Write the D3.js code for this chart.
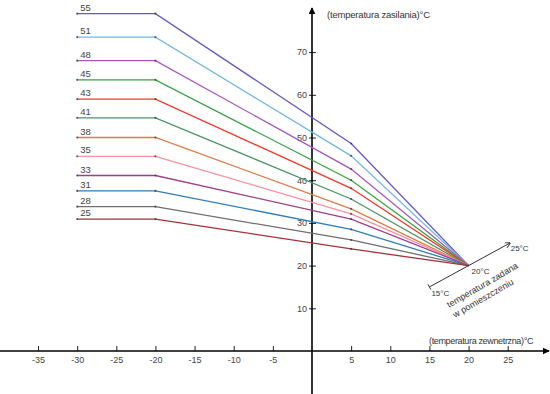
<!DOCTYPE html>
<html>
<head>
<meta charset="utf-8">
<script src="https://cdn.jsdelivr.net/npm/d3@7"></script>
<style>
  body { margin: 0; background: #fff; }
  svg { display: block; font-family: "Liberation Sans", Arial, sans-serif; }
</style>
</head>
<body>
<div id="chart"></div>
<script>
// heating curves: supply temperature vs outside temperature
const curveLabels = ["55", "51", "48", "45", "43", "41", "38", "35", "33", "31", "28", "25"];
const curveColors = ["#6657c6", "#72b8e2", "#a457c0", "#35a540", "#f4382a", "#4a9468",
                     "#df7a44", "#fb8f9d", "#9c3f8c", "#2f7cb6", "#6f6f6f", "#a5313b"];
const outsideTemps = [-30, -20, 5, 20];
// values read as positions on the drawn y axis
const supplyAtMinus20 = [79.0, 73.5, 68.0, 63.5, 59.0, 54.6, 50.0, 45.6, 41.1, 37.5, 33.8, 30.9];
const supplyAt5 = [48.6, 45.7, 42.6, 40.0, 38.1, 35.6, 33.3, 32.1, 30.9, 28.5, 26.0, 23.9];
const supplyAt20 = [20, 20, 20, 20, 20, 20, 20, 20, 20, 20, 20, 20];

const xTicks = [-35, -30, -25, -20, -15, -10, -5, 5, 10, 15, 20, 25];
const yTicks = [10, 20, 30, 40, 50, 60, 70];
const roomTemps = [15, 20, 25];

const W = 550, H = 394;

const svg = d3.select("#chart")
    .append("svg")
    .attr("width", W)
    .attr("height", H);

const x = d3.scaleLinear().domain([0, 25]).range([312, 507.7]);
const y = d3.scaleLinear().domain([0, 70]).range([351, 52.1]);

const curves = curveLabels.map((lab, i) => ({
    label: lab,
    color: curveColors[i],
    points: outsideTemps.map((t, j) => [t, [supplyAtMinus20[i], supplyAtMinus20[i], supplyAt5[i], supplyAt20[i]][j]])
}));

// arrow markers
const defs = svg.append("defs");
defs.append("marker")
    .attr("id", "arr")
    .attr("viewBox", "0 0 10 10")
    .attr("refX", 9).attr("refY", 5)
    .attr("markerWidth", 7).attr("markerHeight", 7)
    .attr("markerUnits", "userSpaceOnUse")
    .attr("orient", "auto")
    .append("path")
    .attr("d", "M0,0 L10,5 L0,10 z")
    .attr("fill", "#000");
defs.append("marker")
    .attr("id", "arrSmall")
    .attr("viewBox", "0 0 10 10")
    .attr("refX", 9).attr("refY", 5)
    .attr("markerWidth", 6).attr("markerHeight", 6)
    .attr("markerUnits", "userSpaceOnUse")
    .attr("orient", "auto")
    .append("path")
    .attr("d", "M0,0 L10,5 L0,10")
    .attr("fill", "none")
    .attr("stroke", "#333")
    .attr("stroke-width", 1.5);

// X axis
const xAxis = svg.append("g")
    .attr("transform", `translate(0,${y(0)})`)
    .call(d3.axisBottom(x).tickValues(xTicks).tickFormat(d => String(d))
        .tickSizeInner(-5).tickSizeOuter(0).tickPadding(6));
xAxis.select(".domain").remove();
xAxis.selectAll(".tick line").attr("stroke", "#222");
xAxis.selectAll("text").attr("font-size", 9).attr("fill", "#444")
    .attr("font-family", "Liberation Sans, Arial, sans-serif");

svg.append("line")
    .attr("x1", 0).attr("x2", 549)
    .attr("y1", y(0)).attr("y2", y(0))
    .attr("stroke", "#000").attr("stroke-width", 1.6)
    .attr("marker-end", "url(#arr)");

// Y axis
const yAxis = svg.append("g")
    .attr("transform", `translate(${x(0)},0)`)
    .call(d3.axisLeft(y).tickValues(yTicks).tickSizeInner(3).tickSizeOuter(0).tickPadding(2));
yAxis.select(".domain").remove();
yAxis.selectAll(".tick line").attr("x1", 4).attr("x2", -3).attr("stroke", "#222");
yAxis.selectAll("text").attr("font-size", 9).attr("fill", "#444")
    .attr("font-family", "Liberation Sans, Arial, sans-serif");

svg.append("line")
    .attr("x1", x(0)).attr("x2", x(0))
    .attr("y1", H).attr("y2", 8)
    .attr("stroke", "#000").attr("stroke-width", 1.6)
    .attr("marker-end", "url(#arr)");

// axis titles
svg.append("text")
    .attr("x", 327).attr("y", 18)
    .attr("font-size", 9.5).attr("fill", "#333")
    .attr("letter-spacing", -0.2)
    .text("(temperatura zasilania)°C");
svg.append("text")
    .attr("x", 429).attr("y", 344)
    .attr("font-size", 9).attr("fill", "#333")
    .attr("letter-spacing", -0.35)
    .text("(temperatura zewnetrzna)°C");

// curves
const line = d3.line().x(d => x(d[0])).y(d => y(d[1]));

svg.selectAll("path.curve")
    .data(curves)
    .enter()
    .append("path")
    .attr("class", "curve")
    .attr("d", d => line(d.points))
    .attr("fill", "none")
    .attr("stroke", d => d.color)
    .attr("stroke-width", 1.3);

svg.selectAll("g.pts")
    .data(curves)
    .enter()
    .append("g")
    .selectAll("circle")
    .data(d => d.points.slice(0, 3))
    .enter()
    .append("circle")
    .attr("cx", d => x(d[0]))
    .attr("cy", d => y(d[1]))
    .attr("r", 1.1)
    .attr("fill", "#333")
    .attr("opacity", 0.7);

svg.selectAll("text.curveLabel")
    .data(curves)
    .enter()
    .append("text")
    .attr("class", "curveLabel")
    .attr("x", x(-30) + 3)
    .attr("y", d => y(d.points[0][1]) - 3)
    .attr("font-size", 9.5)
    .attr("fill", "#444")
    .text(d => d.label);

// room set-point axis (diagonal)
svg.append("line")
    .attr("x1", x(roomTemps[0])).attr("y1", y(roomTemps[0]))
    .attr("x2", x(25.3)).attr("y2", y(25.3))
    .attr("stroke", "#333").attr("stroke-width", 1)
    .attr("marker-end", "url(#arrSmall)");
// small tick at start
const ang = Math.atan2(y(25) - y(15), x(25) - x(15));
const px = Math.sin(ang) * 3, py = -Math.cos(ang) * 3;
svg.append("line")
    .attr("x1", x(15) - px).attr("y1", y(15) - py)
    .attr("x2", x(15) + px).attr("y2", y(15) + py)
    .attr("stroke", "#333").attr("stroke-width", 1);

const roomLabelOffset = [[2, 9], [3, 8], [3, 7]];
svg.selectAll("text.room")
    .data(roomTemps)
    .enter()
    .append("text")
    .attr("class", "room")
    .attr("x", (d, i) => x(d) + roomLabelOffset[i][0])
    .attr("y", (d, i) => y(d) + roomLabelOffset[i][1])
    .attr("font-size", 8)
    .attr("fill", "#333")
    .text(d => d + "°C");

const angDeg = ang * 180 / Math.PI;
svg.append("text")
    .attr("transform", `translate(449,308) rotate(${angDeg - 1.5})`)
    .attr("font-size", 9)
    .attr("fill", "#333")
    .text("temperatura zadana");
svg.append("text")
    .attr("transform", `translate(455,318) rotate(${angDeg - 1.5})`)
    .attr("font-size", 9)
    .attr("fill", "#333")
    .text("w pomieszczeniu");
</script>
</body>
</html>
